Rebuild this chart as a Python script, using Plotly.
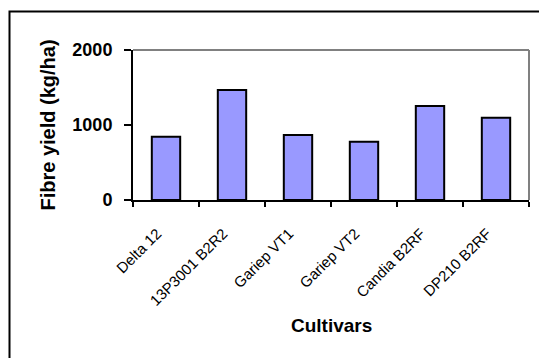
import plotly.graph_objects as go

# Fibre yield per cultivar
cultivars = ["Delta 12", "13P3001 B2R2", "Gariep VT1", "Gariep VT2", "Candia B2RF", "DP210 B2RF"]
fibre_yield = [844, 1467, 867, 778, 1253, 1098]
y_ticks = [0, 1000, 2000]

W, H = 539, 358
L, R, T, B = 133, 10, 50, 158

fig = go.Figure(
    go.Bar(
        x=cultivars,
        y=fibre_yield,
        marker=dict(color="#9999FF", line=dict(color="black", width=2)),
        width=0.43,
    )
)

pw = W - L - R
ph = H - T - B


def px_to_paper_x(px):
    return (px - L) / pw


def px_to_paper_y(py):
    return (H - B - py) / ph


shapes = [
    # gray plot-area frame (top and right)
    dict(type="line", xref="paper", yref="paper", x0=0, x1=1, y0=1, y1=1,
         line=dict(color="#808080", width=2)),
    dict(type="line", xref="paper", yref="paper", x0=1, x1=1, y0=0, y1=1,
         line=dict(color="#808080", width=2)),
    # outer chart border
    dict(type="rect", xref="paper", yref="paper",
         x0=px_to_paper_x(9.5), x1=px_to_paper_x(560),
         y0=px_to_paper_y(380), y1=px_to_paper_y(11.5),
         line=dict(color="black", width=2), layer="above"),
]

fig.update_layout(
    width=W, height=H,
    margin=dict(l=L, r=R, t=T, b=B),
    paper_bgcolor="white", plot_bgcolor="white",
    showlegend=False,
    font=dict(family="Arial, Liberation Sans, sans-serif", color="black"),
    bargap=0.57,
    shapes=shapes,
    annotations=[
        dict(text="<b>Cultivars</b>", xref="paper", yref="paper",
             x=0.5, y=px_to_paper_y(325), xanchor="center", yanchor="middle",
             showarrow=False, font=dict(size=19)),
    ],
    xaxis=dict(
        type="category",
        tickson="boundaries",
        ticks="outside", ticklen=5, tickwidth=2, tickcolor="black",
        showline=True, linecolor="black", linewidth=2,
        tickangle=-45, tickfont=dict(size=15),
        ticklabelshift=-9, ticklabelstandoff=17,
        showgrid=False, zeroline=False,
    ),
    yaxis=dict(
        range=[0, 2000],
        tickvals=y_ticks,
        ticktext=[f"<b>{v}</b>" for v in y_ticks],
        ticks="outside", ticklen=7, tickwidth=2, tickcolor="black",
        showline=True, linecolor="black", linewidth=2,
        tickfont=dict(size=18),
        ticklabelstandoff=8,
        title=dict(text="<b>Fibre yield (kg/ha)</b>", font=dict(size=20), standoff=11),
        showgrid=False, zeroline=False,
    ),
)

fig.write_html("out.html")
